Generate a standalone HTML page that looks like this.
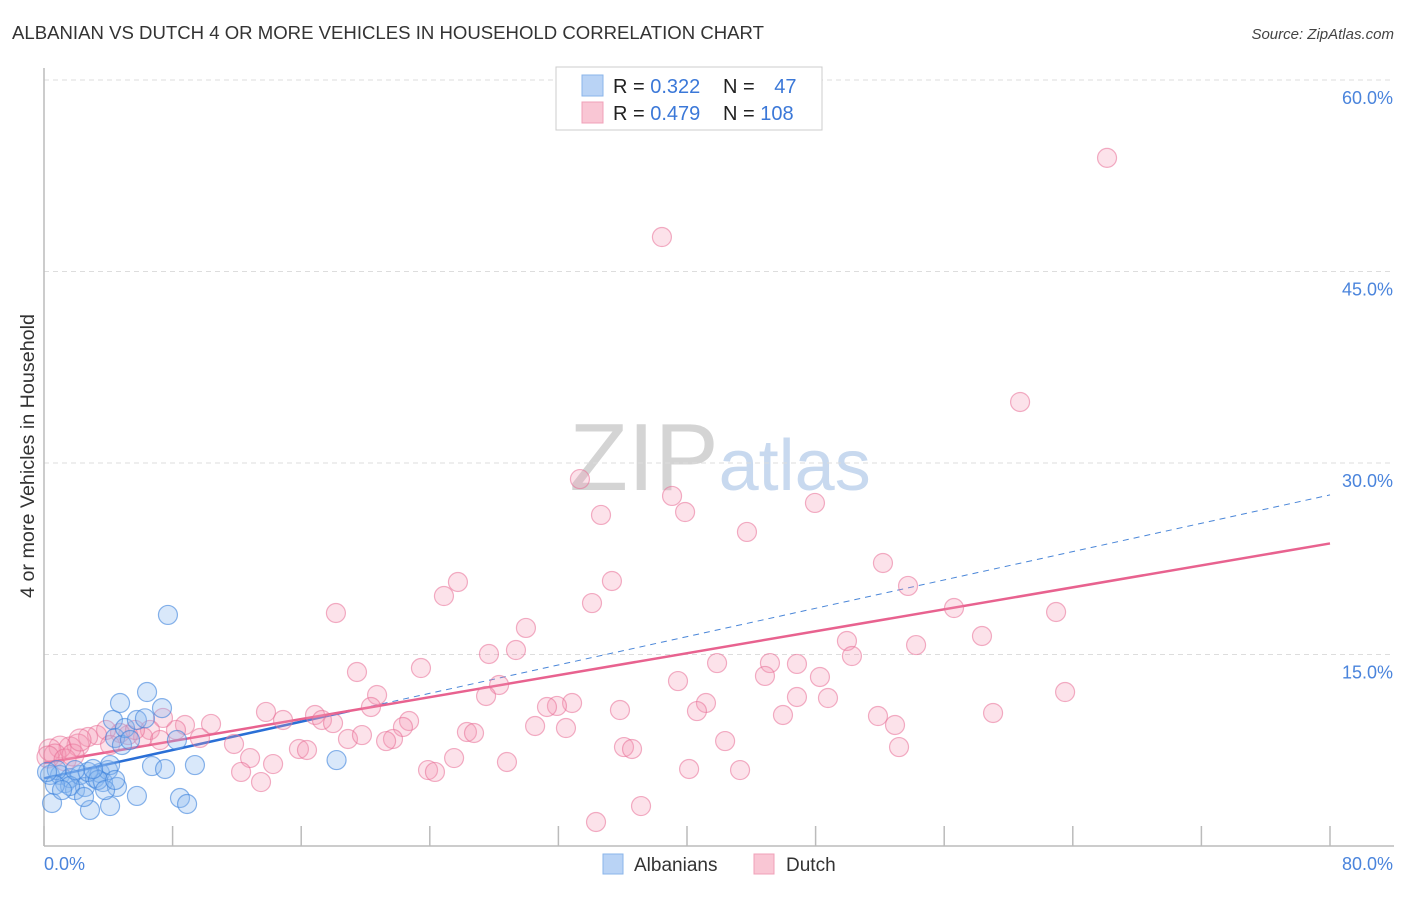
<!DOCTYPE html>
<html><head><meta charset="utf-8"><style>
body{margin:0;background:#fff;font-family:"Liberation Sans",sans-serif;}
svg text{font-family:"Liberation Sans",sans-serif;}
</style></head><body>
<svg id="chart" width="1406" height="892" xmlns="http://www.w3.org/2000/svg">
<text x="12" y="39" font-size="18" fill="#333" textLength="752" lengthAdjust="spacingAndGlyphs">ALBANIAN VS DUTCH 4 OR MORE VEHICLES IN HOUSEHOLD CORRELATION CHART</text>
<text x="1394" y="39" font-size="15" fill="#444" text-anchor="end" font-style="italic">Source: ZipAtlas.com</text>
<text transform="translate(34,456) rotate(-90)" font-size="19" fill="#333" text-anchor="middle" textLength="284" lengthAdjust="spacingAndGlyphs">4 or more Vehicles in Household</text>
<text x="720" y="490" font-size="96" text-anchor="middle" fill="#d9d9d9" font-family="Liberation Serif"><tspan fill="#d4d4d4">ZIP</tspan><tspan fill="#c8d9ef" font-family="Liberation Sans" font-size="72">atlas</tspan></text>
<g id="grid"></g><g id="axes"></g><g id="trend"></g><g id="pts"></g>
<g>
<rect x="556" y="67" width="266" height="63" fill="#fff" stroke="#ccc"/>
<rect x="582" y="75" width="21" height="21" fill="#b9d3f5" stroke="#8ab4ea"/>
<rect x="582" y="102" width="21" height="21" fill="#f9c6d4" stroke="#f0a0b8"/>
<text x="613" y="93" font-size="20" fill="#222">R = <tspan fill="#3b78d8">0.322</tspan></text>
<text x="723" y="93" font-size="20" fill="#222">N = <tspan fill="#3b78d8" dx="14">47</tspan></text>
<text x="613" y="120" font-size="20" fill="#222">R = <tspan fill="#3b78d8">0.479</tspan></text>
<text x="723" y="120" font-size="20" fill="#222">N = <tspan fill="#3b78d8">108</tspan></text>
</g>
<g>
<rect x="603" y="854" width="20" height="20" fill="#b9d3f5" stroke="#8ab4ea"/>
<text x="634" y="871" font-size="19" fill="#333">Albanians</text>
<rect x="754" y="854" width="20" height="20" fill="#f9c6d4" stroke="#f0a0b8"/>
<text x="786" y="871" font-size="19" fill="#333">Dutch</text>
</g>
</svg>
<script>
const yTicks=[15,30,45,60];
const yTickLabels=["15.0%","30.0%","45.0%","60.0%"];
const xTicks=[0,8,16,24,32,40,48,56,64,72,80];
const blueX=[0.5,0.37,1.0,1.31,1.62,1.93,2.24,2.55,2.86,3.17,3.48,3.67,3.98,4.11,4.29,4.42,4.54,4.73,4.85,5.04,5.78,5.78,6.28,6.41,6.72,7.34,7.53,7.71,8.27,8.46,8.9,9.39,18.2,0.8,1.62,2.74,3.36,4.11,0.68,1.12,0.19,3.05,3.8,5.35,4.42,2.49,1.93];
const blueY=[3.37,5.56,5.56,4.93,5.32,4.38,5.56,4.62,2.82,5.32,5.72,5.01,5.95,3.13,9.87,8.46,4.62,11.2,7.91,9.24,3.92,9.87,10.0,12.06,6.26,10.8,6.03,18.1,8.3,3.76,3.29,6.34,6.73,5.95,4.7,5.8,5.17,6.34,4.78,4.38,5.8,6.03,4.38,8.3,5.17,3.84,5.95];
const pinkX=[33.34,38.44,66.13,60.72,39.07,39.88,34.65,43.73,47.96,52.19,35.33,25.75,24.88,53.75,34.09,18.16,56.61,62.96,29.98,49.95,50.26,54.25,58.35,27.68,29.36,23.45,19.47,45.16,46.84,44.85,41.87,39.44,48.27,28.31,20.72,27.5,32.85,31.91,31.29,46.84,48.77,41.18,40.62,35.83,63.52,59.04,45.97,51.88,52.94,20.34,13.81,14.87,16.86,17.29,17.98,22.71,22.33,30.55,32.47,26.31,26.75,18.91,19.78,21.71,21.28,15.86,16.36,10.39,11.82,42.37,36.08,36.58,53.19,25.51,28.8,23.89,24.32,12.82,14.25,12.26,13.5,40.13,43.3,37.14,34.34,9.7,8.77,8.21,7.4,6.59,6.16,5.23,4.73,3.86,3.3,2.74,2.12,1.62,1.0,0.37,0.68,0.25,1.31,1.8,2.24,4.11,5.66,7.22];
const pinkY=[28.74,47.7,53.9,34.78,27.42,26.16,25.93,24.6,26.87,22.17,20.76,20.68,19.58,20.37,19.03,18.25,18.64,18.33,17.08,16.06,14.88,15.74,16.45,15.04,15.35,13.94,13.63,14.33,14.26,13.32,14.33,12.92,13.24,12.61,11.83,11.75,11.2,10.97,10.89,11.67,11.59,11.2,10.57,10.65,12.06,10.42,10.26,10.18,9.48,10.89,10.5,9.87,10.26,9.87,9.63,9.79,9.32,9.4,9.24,8.93,8.85,8.38,8.69,8.38,8.22,7.6,7.52,9.56,7.99,8.22,7.75,7.6,7.75,6.89,6.58,5.95,5.8,6.89,6.42,5.8,5.01,6.03,5.95,3.13,1.88,8.46,9.48,9.09,10.03,9.09,8.54,8.69,8.85,9.09,8.69,8.54,7.91,7.68,7.75,7.52,7.13,6.97,6.74,7.13,8.3,7.91,9.09,8.3];
const blueTrend=[5.3,27.5];
const pinkTrend=[6.5,23.7];
const X0=44,X1=1330,Y0=846,PXY=191.5/15;
const sx=v=>X0+(v/80)*(X1-X0);
const sy=v=>Y0-v*PXY;
const NS="http://www.w3.org/2000/svg";
function mk(parent,tag,attrs){const e=document.createElementNS(NS,tag);for(const k in attrs)e.setAttribute(k,attrs[k]);document.getElementById(parent).appendChild(e);return e;}
yTicks.forEach((t,i)=>{
 const l=mk('grid','line',{x1:X0,x2:1394,y1:sy(t),y2:sy(t),stroke:'#ddd','stroke-dasharray':'5,4'});
 
 
 const tx=mk('grid','text',{x:1393,y:sy(t)+24,'font-size':18,fill:'#4a84dc','text-anchor':'end'});
 tx.textContent=yTickLabels[i];
 
 
});
const ya=mk('axes','line',{x1:X0,x2:X0,y1:68,y2:846,stroke:'#bbb','stroke-width':1.5});


const xa=mk('axes','line',{x1:X0,x2:1394,y1:846,y2:846,stroke:'#bbb','stroke-width':1.5});


xTicks.forEach(t=>{
 const l=mk('axes','line',{x1:sx(t),x2:sx(t),y1:826,y2:846,stroke:'#bbb','stroke-width':1.5});
 
 
});
const xl0=mk('axes','text',{x:44,y:870,'font-size':18,fill:'#4a84dc'});xl0.textContent='0.0%';


const xl1=mk('axes','text',{x:1393,y:870,'font-size':18,fill:'#4a84dc','text-anchor':'end'});xl1.textContent='80.0%';


pinkX.forEach((x,i)=>{
 const c=mk('pts','circle',{cx:sx(x),cy:sy(pinkY[i]),r:(x<2.5?11:9.5),fill:'rgba(244,150,180,0.28)',stroke:'rgba(232,110,150,0.55)','stroke-width':1.2});
 
 
});
blueX.forEach((x,i)=>{
 const c=mk('pts','circle',{cx:sx(x),cy:sy(blueY[i]),r:9.5,fill:'rgba(140,185,240,0.33)',stroke:'rgba(60,130,220,0.6)','stroke-width':1.2});
 
 
});
const bAt=x=>blueTrend[0]+(blueTrend[1]-blueTrend[0])*x/80;
const pAt=x=>pinkTrend[0]+(pinkTrend[1]-pinkTrend[0])*x/80;
const bd=mk('trend','line',{x1:sx(19),y1:sy(bAt(19)),x2:sx(80),y2:sy(bAt(80)),stroke:'#4a86d8','stroke-width':1,'stroke-dasharray':'6,5'});


const bs=mk('trend','line',{x1:sx(0),y1:sy(bAt(0)),x2:sx(19),y2:sy(bAt(19)),stroke:'#2a6fd6','stroke-width':2.5});


const ps=mk('trend','line',{x1:sx(0),y1:sy(pAt(0)),x2:sx(80),y2:sy(pAt(80)),stroke:'#e8628f','stroke-width':2.5});


</script>
</body></html>
